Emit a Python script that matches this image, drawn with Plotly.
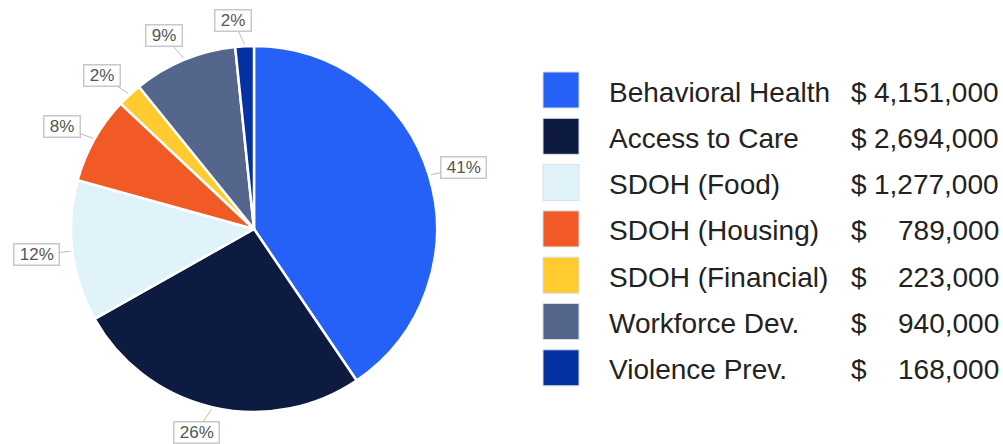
import math
import plotly.graph_objects as go

categories = ["Behavioral Health", "Access to Care", "SDOH (Food)", "SDOH (Housing)",
              "SDOH (Financial)", "Workforce Dev.", "Violence Prev."]
amounts = [4151000, 2694000, 1277000, 789000, 223000, 940000, 168000]
colors = ["#2561F7", "#0D1B40", "#E1F3FA", "#F15A24", "#FFCB2F", "#55668C", "#0532A2"]

W, H = 1003, 444
CX, CY, R = 254, 229, 183  # pie center/radius in px


def px(x):
    return x / W


def py(y):
    return 1 - y / H


fig = go.Figure()
fig.add_trace(go.Pie(
    labels=categories, values=amounts, sort=False, direction="clockwise", rotation=0,
    marker=dict(colors=colors, line=dict(color="white", width=2.5)),
    textinfo="none", hoverinfo="label+value+percent", showlegend=False,
    domain=dict(x=[px(CX - R), px(CX + R)], y=[py(CY + R), py(CY - R)]),
))

total = sum(amounts)
cum = 0
annotations = []
for v in amounts:
    frac = v / total
    mid = (cum + frac / 2) * 2 * math.pi
    cum += frac
    sx, sy = math.sin(mid), -math.cos(mid)
    ex, ey = CX + (R + 2) * sx, CY + (R + 2) * sy
    ax = 24 * sx + (10 if sx > 0 else -10)
    ay = 24 * sy
    annotations.append(dict(
        x=px(ex), y=py(ey), xref="paper", yref="paper",
        text=f"\u00a0{round(frac * 100)}%\u00a0", showarrow=True, arrowhead=0,
        arrowwidth=1, arrowcolor="#BBBBBB", ax=ax, ay=ay, standoff=0,
        bordercolor="#C8C8C8", borderwidth=1.5, borderpad=0.5, bgcolor="white",
        font=dict(family="Liberation Sans, Arial", size=17, color="#555555"),
    ))

# custom legend
LX, L0, LSTEP, SQ = 543, 90, 46.3, 36
shapes = []
for i, (name, v, c) in enumerate(zip(categories, amounts, colors)):
    yc = L0 + i * LSTEP
    shapes.append(dict(type="rect", xref="paper", yref="paper",
                       x0=px(LX), x1=px(LX + SQ), y0=py(yc + SQ / 2), y1=py(yc - SQ / 2),
                       fillcolor=c, line=dict(color="#D8DDE8", width=1)))
    f = dict(family="Liberation Sans, Arial", size=28, color="#222222")
    annotations.append(dict(x=px(607), y=py(yc + 2), xref="paper", yref="paper",
                            text=name, showarrow=False, xanchor="left", yanchor="middle", font=f))
    annotations.append(dict(x=px(849), y=py(yc + 2), xref="paper", yref="paper",
                            text="$", showarrow=False, xanchor="left", yanchor="middle", font=f))
    annotations.append(dict(x=px(1001), y=py(yc + 2), xref="paper", yref="paper",
                            text=f"{v:,}", showarrow=False, xanchor="right", yanchor="middle", font=f))

fig.update_layout(
    width=W, height=H, margin=dict(l=0, r=0, t=0, b=0),
    paper_bgcolor="white", plot_bgcolor="white",
    annotations=annotations, shapes=shapes,
)
fig.write_html("out.html")
